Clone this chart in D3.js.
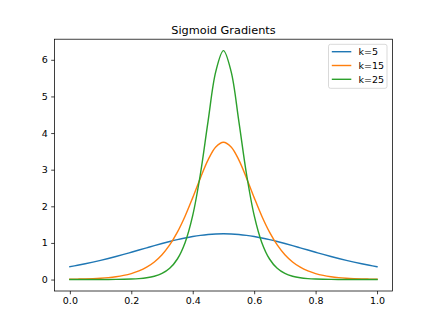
<!DOCTYPE html>
<html><head><meta charset="utf-8">
<script src="https://cdn.jsdelivr.net/npm/d3@7"></script>
<style>body{margin:0;background:#fff}svg{display:block}text{font-family:"DejaVu Sans",sans-serif;fill:#000}</style>
</head><body>
<svg id="c" width="436" height="327"></svg>
<script>
const xs = [0,0.025,0.05,0.075,0.1,0.125,0.15,0.175,0.2,0.225,0.25,0.275,0.3,0.325,0.35,0.375,0.4,0.425,0.45,0.475,0.5,0.525,0.55,0.575,0.6,0.625,0.65,0.675,0.7,0.725,0.75,0.775,0.8,0.825,0.85,0.875,0.9,0.925,0.95,0.975,1];
const k5half = [0.35052,0.38941,0.43129,0.47654,0.52496,0.57642,0.63065,0.68725,0.74573,0.80542,0.86553,0.92508,0.98306,1.03826,1.08947,1.13546,1.17502,1.20706,1.23067,1.24513,1.25];
const k15half = [0.00829,0.01205,0.01752,0.02547,0.03700,0.05371,0.07789,0.11280,0.16299,0.23480,0.33674,0.47987,0.67765,0.94475,1.29386,1.72927,2.23720,2.77527,3.26843,3.62119,3.75];
const k25half = [0.00009,0.00017,0.00032,0.00061,0.00113,0.00212,0.00396,0.00740,0.01381,0.02578,0.04808,0.08952,0.16620,0.30693,0.56124,1.00791,1.75259,2.88212,4.32763,5.67730,6.25];
const seriesNames = ["k=5","k=15","k=25"];
const colors = ["#1f77b4","#ff7f0e","#2ca02c"];
const xTicks = [0,0.2,0.4,0.6,0.8,1.0];
const yTicks = [0,1,2,3,4,5,6];
const title = "Sigmoid Gradients";

function mirror(h){ return h.concat(h.slice(0,-1).reverse()); }
const series = [mirror(k5half), mirror(k15half), mirror(k25half)];

const svg = d3.select("#c");
const L=54.5, R=392.4, T=39.2, B=291;
const x = d3.scaleLinear().domain([-0.05,1.05]).range([L,R]);
const y = d3.scaleLinear().domain([-0.3125,6.5625]).range([B,T]);

const line = d3.line().x((d,i)=>x(xs[i])).y(d=>y(d)).curve(d3.curveCatmullRom);
series.forEach((s,i)=>{
  svg.append("path").datum(s).attr("d",line).attr("fill","none")
    .attr("stroke",colors[i]).attr("stroke-width",1.42).attr("stroke-linejoin","round").attr("stroke-linecap","square");
});

const xa = svg.append("g").attr("transform",`translate(0,${B})`)
  .call(d3.axisBottom(x).tickValues(xTicks).tickFormat(d3.format(".1f")).tickSizeOuter(0).tickSize(3.3).tickPadding(3.3));
const ya = svg.append("g").attr("transform",`translate(${L},0)`)
  .call(d3.axisLeft(y).tickValues(yTicks).tickFormat(d3.format("d")).tickSizeOuter(0).tickSize(3.3).tickPadding(3.3));
[xa,ya].forEach(a=>{
  a.select(".domain").remove();
  a.selectAll("line").attr("stroke","#000").attr("stroke-width",0.75);
  a.selectAll("text").attr("font-size","9.5px").attr("font-family","DejaVu Sans").attr("fill","#000");
});
svg.append("rect").attr("x",L).attr("y",T).attr("width",R-L).attr("height",B-T)
  .attr("fill","none").attr("stroke","#000").attr("stroke-width",0.75);

svg.append("text").attr("x",(L+R)/2).attr("y",T-5.5).attr("text-anchor","middle")
  .attr("font-size","11.3px").text(title);

const lg = svg.append("g");
lg.append("rect").attr("x",328.5).attr("y",44.3).attr("width",58.5).attr("height",44)
  .attr("rx",2).attr("fill","#fff").attr("fill-opacity",0.8).attr("stroke","#cccccc").attr("stroke-width",0.75);
seriesNames.forEach((n,i)=>{
  const yy = 51.7 + i*13.8;
  lg.append("line").attr("x1",331.8).attr("x2",351.3).attr("y1",yy).attr("y2",yy)
    .attr("stroke",colors[i]).attr("stroke-width",1.42);
  lg.append("text").attr("x",358.5).attr("y",yy).attr("dy","0.35em").attr("font-size","9.5px").text(n);
});
</script>
</body></html>
